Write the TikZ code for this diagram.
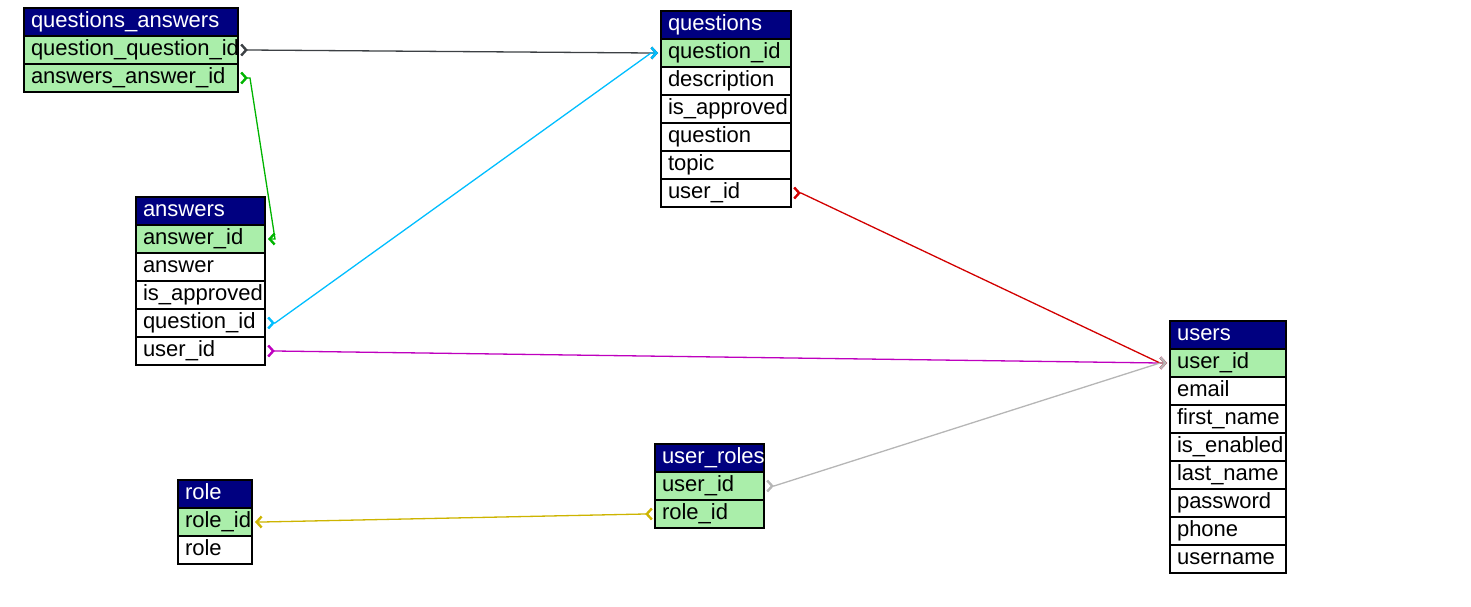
\documentclass[tikz,border=0pt]{standalone}
\usepackage{fontspec}
\setmainfont{Liberation Sans}
\usetikzlibrary{arrows.meta, positioning, calc}
\definecolor{hdblue}{RGB}{0, 0, 128}
\definecolor{keygreen}{RGB}{170, 238, 170}
\definecolor{lnkdark}{RGB}{60, 64, 68}
\definecolor{lnkgreen}{RGB}{0, 180, 0}
\definecolor{lnkcyan}{RGB}{0, 190, 255}
\definecolor{lnkmagenta}{RGB}{190, 0, 190}
\definecolor{lnkred}{RGB}{210, 0, 0}
\definecolor{lnkgray}{RGB}{182, 182, 182}
\definecolor{lnkolive}{RGB}{205, 180, 0}
\tikzset{
    cell/.style = {rectangle, draw=black, line width=1.5pt, minimum height=28pt, text height=15.5pt, text depth=5pt, inner xsep=7pt, inner ysep=0pt, outer sep=0pt, align=left, font=\fontsize{22}{25}\selectfont},
    head/.style = {cell, fill=hdblue, text=white},
    pkey/.style = {cell, fill=keygreen},
    field/.style = {cell, fill=white},
    link/.style = {line width=1.3pt, draw=#1, shorten <=2pt, shorten >=3pt,
        {Straight Barb[reversed, length=5pt, width=11pt, line width=2.4pt]}-{Straight Barb[length=5pt, width=11pt, line width=2.4pt]}}
}

\begin{document}
\begin{tikzpicture}[x=1pt, y=-1pt, node distance=0pt]
  \useasboundingbox (0,0) rectangle (1471,607);

  % questions_answers
  \begin{scope}[every node/.append style={text width=200pt}]
    \node[head, anchor=north west] (qa) at (24,8) {questions\_answers};
    \node[pkey, below=of qa] (qa-1) {question\_question\_id};
    \node[pkey, below=of qa-1] (qa-2) {answers\_answer\_id};
  \end{scope}

  % questions
  \begin{scope}[every node/.append style={text width=116pt}]
    \node[head, anchor=north west] (q) at (661,11) {questions};
    \node[pkey, below=of q] (q-1) {question\_id};
    \node[field, below=of q-1] (q-2) {description};
    \node[field, below=of q-2] (q-3) {is\_approved};
    \node[field, below=of q-3] (q-4) {question};
    \node[field, below=of q-4] (q-5) {topic};
    \node[field, below=of q-5] (q-6) {user\_id};
  \end{scope}

  % answers
  \begin{scope}[every node/.append style={text width=115pt}]
    \node[head, anchor=north west] (a) at (136,197) {answers};
    \node[pkey, below=of a] (a-1) {answer\_id};
    \node[field, below=of a-1] (a-2) {answer};
    \node[field, below=of a-2] (a-3) {is\_approved};
    \node[field, below=of a-3] (a-4) {question\_id};
    \node[field, below=of a-4] (a-5) {user\_id};
  \end{scope}

  % users
  \begin{scope}[every node/.append style={text width=102pt}]
    \node[head, anchor=north west] (u) at (1170,321) {users};
    \node[pkey, below=of u] (u-1) {user\_id};
    \node[field, below=of u-1] (u-2) {email};
    \node[field, below=of u-2] (u-3) {first\_name};
    \node[field, below=of u-3] (u-4) {is\_enabled};
    \node[field, below=of u-4] (u-5) {last\_name};
    \node[field, below=of u-5] (u-6) {password};
    \node[field, below=of u-6] (u-7) {phone};
    \node[field, below=of u-7] (u-8) {username};
  \end{scope}

  % user_roles
  \begin{scope}[every node/.append style={text width=95pt}]
    \node[head, anchor=north west] (ur) at (655,444) {user\_roles};
    \node[pkey, below=of ur] (ur-1) {user\_id};
    \node[pkey, below=of ur-1] (ur-2) {role\_id};
  \end{scope}

  % role
  \begin{scope}[every node/.append style={text width=60pt}]
    \node[head, anchor=north west] (r) at (178,480) {role};
    \node[pkey, below=of r] (r-1) {role\_id};
    \node[field, below=of r-1] (r-2) {role};
  \end{scope}

  % foreign keys
  \draw[link=lnkdark] (qa-1.east) -- ++(10,0) -- ($(q-1.west)+(-10,0)$) -- (q-1.west);
  \draw[link=lnkgreen] (qa-2.east) -- ++(12,0) -- ($(a-1.east)+(10,0)$) -- (a-1.east);
  \draw[link=lnkcyan] (a-4.east) -- ++(10,0) -- ($(q-1.west)+(-10,0)$) -- (q-1.west);
  \draw[link=lnkmagenta] (a-5.east) -- ++(10,0) -- ($(u-1.west)+(-10,0)$) -- (u-1.west);
  \draw[link=lnkred] (q-6.east) -- ++(10,0) -- ($(u-1.west)+(-10,0)$) -- (u-1.west);
  \draw[link=lnkgray] (ur-1.east) -- ++(10,0) -- ($(u-1.west)+(-10,0)$) -- (u-1.west);
  \draw[link=lnkolive] (ur-2.west) -- ++(-10,0) -- ($(r-1.east)+(10,0)$) -- (r-1.east);
\end{tikzpicture}
\end{document}
